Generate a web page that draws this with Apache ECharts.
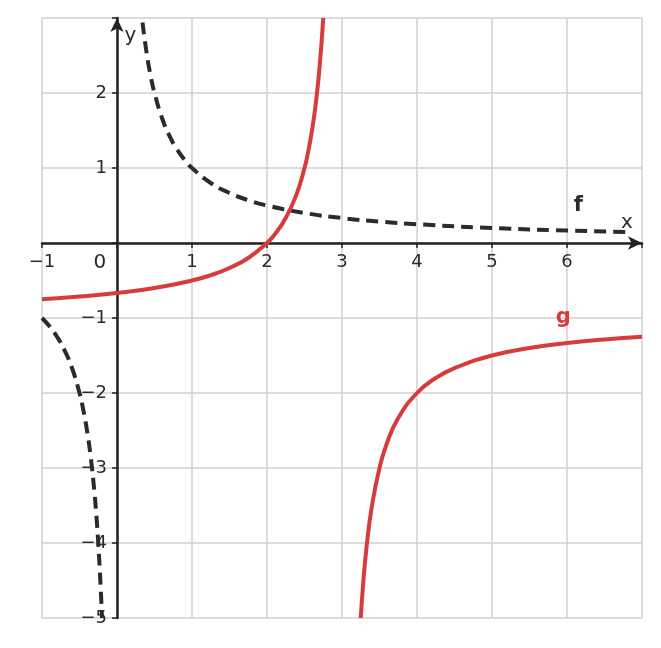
<!DOCTYPE html>
<html><head><meta charset="utf-8">
<script src="https://cdn.jsdelivr.net/npm/echarts@6/dist/echarts.min.js"></script>
<style>html,body{margin:0;padding:0;background:#fff}#c{width:661px;height:648px}</style>
</head><body><div id="c"></div>
<script>
const fPos = [[0.34,2.94],[0.4,2.5],[0.45,2.222],[0.5,2],[0.6,1.667],[0.7,1.429],[0.8,1.25],[0.9,1.111],[1,1],[1.25,0.8],[1.5,0.667],[1.75,0.571],[2,0.5],[2.5,0.4],[3,0.333],[3.5,0.286],[4,0.25],[5,0.2],[6,0.167],[6.8,0.147]];
const fNeg = [[-1,-1],[-0.9,-1.111],[-0.8,-1.25],[-0.7,-1.429],[-0.6,-1.667],[-0.5,-2],[-0.45,-2.222],[-0.4,-2.5],[-0.35,-2.857],[-0.3,-3.333],[-0.27,-3.7],[-0.25,-4],[-0.22,-4.545],[-0.2,-5]];
const gLeft = [[-1,-0.75],[-0.5,-0.714],[0,-0.667],[0.5,-0.6],[1,-0.5],[1.25,-0.429],[1.5,-0.333],[1.75,-0.2],[2,0],[2.1,0.111],[2.25,0.333],[2.4,0.667],[2.5,1],[2.55,1.222],[2.6,1.5],[2.65,1.857],[2.7,2.333],[2.75,3]];
const gRight = [[3.25,-5],[3.28,-4.571],[3.33,-4.03],[3.4,-3.5],[3.5,-3],[3.6,-2.667],[3.75,-2.333],[4,-2],[4.25,-1.8],[4.5,-1.667],[5,-1.5],[5.5,-1.4],[6,-1.333],[6.5,-1.286],[7,-1.25]];
const xTicks = [-1,1,2,3,4,5,6];
const yTicks = [-5,-4,-3,-2,-1,1,2];
const labels = [
  {value:[6.15,0.5], name:'f', color:'#2b2b2b'},
  {value:[5.95,-1.0], name:'g', color:'#d63c3c'},
  {value:[6.8,0.27], name:'x', color:'#2b2b2b', w:'normal'},
  {value:[0.18,2.76], name:'y', color:'#2b2b2b', w:'normal'},
  {value:[-0.23,-0.26], name:'0', color:'#2b2b2b', w:'normal'}
];
const fmt = v => v<0 ? '\u2212'+(-v) : ''+v;
const ch = echarts.init(document.getElementById('c'));
const font = 'DejaVu Sans';
const axisCommon = {
  axisLine:{onZero:true,lineStyle:{color:'#222',width:2.5},symbol:['none','arrow'],symbolSize:[10,14]},
  axisTick:{show:true,length:5,lineStyle:{color:'#222',width:1.5}},
  axisLabel:{show:false},
  splitLine:{lineStyle:{color:'#d0d0d0',width:1.5}}
};
const txt = (c,w,s) => ({show:true,color:c,fontFamily:font,fontSize:s,fontWeight:w});
ch.setOption({
  animation:false,
  grid:{left:42,right:19,top:18,bottom:30},
  xAxis:Object.assign({type:'value',min:-1,max:7,interval:1},axisCommon),
  yAxis:Object.assign({type:'value',min:-5,max:3,interval:1},axisCommon),
  series:[
    {type:'line',data:fPos,smooth:true,showSymbol:false,lineStyle:{color:'#2b2b2b',width:4,type:[12,7]}},
    {type:'line',data:fNeg,smooth:true,showSymbol:false,lineStyle:{color:'#2b2b2b',width:4,type:[12,7]}},
    {type:'line',data:gLeft,smooth:true,showSymbol:false,lineStyle:{color:'#d63c3c',width:4}},
    {type:'line',data:gRight,smooth:true,showSymbol:false,lineStyle:{color:'#d63c3c',width:4}},
    {type:'scatter',symbolSize:0,itemStyle:{opacity:1},silent:true,
      data:labels.map(l=>({value:l.value,label:Object.assign({position:'inside',formatter:l.name},txt(l.color,l.w||'bold',l.w?20:21))}))},
    {type:'scatter',symbolSize:0,itemStyle:{opacity:1},silent:true,
      data:xTicks.map(v=>({value:[v,0],label:Object.assign({position:'bottom',distance:10,formatter:fmt(v)},txt('#2b2b2b','normal',18))}))},
    {type:'scatter',symbolSize:0,itemStyle:{opacity:1},silent:true,
      data:yTicks.map(v=>({value:[0,v],label:Object.assign({position:'left',distance:10,formatter:fmt(v)},txt('#2b2b2b','normal',18))}))}
  ]
});
</script></body></html>
